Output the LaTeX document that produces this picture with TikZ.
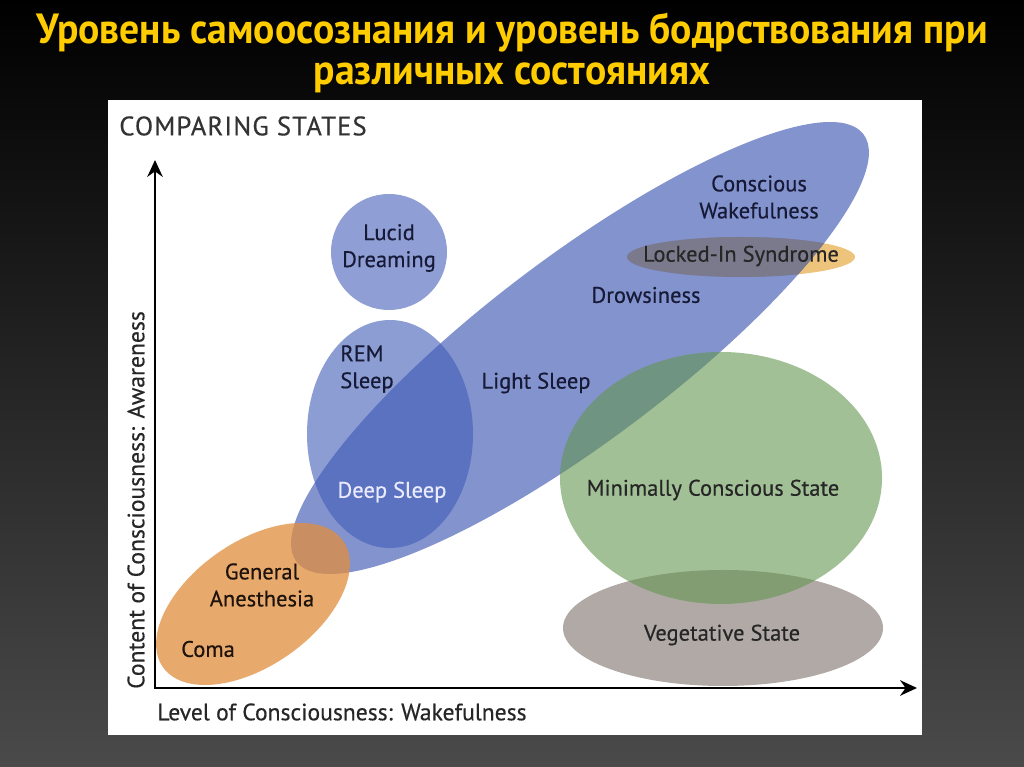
\documentclass[tikz,border=0pt]{standalone}
\usepackage{fontspec}
\setmainfont{PT Sans}
\newfontfamily\titlefont[FakeStretch=0.94]{PT Sans}
\newfontfamily\labelfont[FakeBold=0.4]{PT Sans}
\usetikzlibrary{arrows.meta}

\definecolor{bggray}{RGB}{74,74,74}
\definecolor{titleyellow}{RGB}{255,204,0}
\definecolor{wakeblue}{RGB}{100,120,193}
\definecolor{sleepblue}{RGB}{63,93,183}
\definecolor{lucidblue}{RGB}{143,158,212}
\definecolor{anesthorange}{RGB}{225,141,61}
\definecolor{lockorange}{RGB}{238,196,125}
\definecolor{lockgray}{RGB}{122,122,140}
\definecolor{mcsgreen}{RGB}{100,150,80}
\definecolor{veggray}{RGB}{176,169,166}
\definecolor{inkblue}{RGB}{22,26,55}

\begin{document}
\begin{tikzpicture}[x=0.025cm, y=0.025cm,
  lbl/.style={font=\labelfont\fontsize{16}{19.2}\selectfont, text=inkblue, align=center, inner sep=0pt},
  axislbl/.style={font=\labelfont\fontsize{16.8}{19.2}\selectfont, text=black!85, inner sep=0pt},
  axisline/.style={line width=1.5pt, {Stealth[length=12pt, width=11pt]}-{Stealth[length=12pt, width=11pt]}}]

% background and panel
\shade[top color=black, bottom color=bggray] (0, 0) rectangle (1024, 767);
\fill[white] (108, 32) rectangle (922, 667);

\node[font=\titlefont\bfseries\fontsize{30}{28.5}\selectfont, text=titleyellow, align=center, anchor=north, inner sep=0pt] (title) at (512, 754) {Уровень самоосознания и уровень бодрствования при\\различных состояниях};

\node[font=\labelfont\fontsize{19}{20}\selectfont\addfontfeature{LetterSpace=4}, text=black!80, anchor=west, inner sep=0pt] (heading) at (119, 641) {COMPARING STATES};

% states
\fill[lockorange] (741, 510) ellipse [x radius=114, y radius=20];
\fill[veggray] (723, 139) ellipse [x radius=160, y radius=58];
\fill[wakeblue, fill opacity=0.8, rotate around={37:(580, 419)}] (580, 419) ellipse [x radius=355, y radius=92];
\begin{scope}
  \clip[rotate around={37:(580, 419)}] (580, 419) ellipse [x radius=355, y radius=92];
  \fill[lockgray] (741, 510) ellipse [x radius=114, y radius=20];
\end{scope}
\fill[sleepblue, fill opacity=0.6] (390, 333) ellipse [x radius=83, y radius=114];
\fill[lucidblue] (389, 515) circle [radius=58];
\fill[anesthorange, fill opacity=0.75, rotate around={35:(253, 163)}] (253, 163) ellipse [x radius=110, y radius=62];
\fill[mcsgreen, fill opacity=0.6] (721, 289) ellipse [x radius=161, y radius=126];

\node[lbl] (lucid) at (389, 519) {Lucid\\Dreaming};
\node[lbl, align=left] (rem) at (367, 398) {REM\\Sleep};
\node[lbl] (light) at (536, 384) {Light Sleep};
\node[lbl, text=white!92!blue] (deep) at (392, 275) {Deep Sleep};
\node[lbl] (drowsy) at (646, 472) {Drowsiness};
\node[lbl] (awake) at (759, 570) {Conscious\\Wakefulness};
\node[lbl, text=black!85] (locked) at (741, 511) {Locked-In Syndrome};
\node[lbl, text=black!85] (mcs) at (713, 277) {Minimally Conscious State};
\node[lbl, text=black!85!brown] (anest) at (262, 182) {General\\Anesthesia};
\node[lbl, text=black!85!brown] (coma) at (208, 118) {Coma};
\node[lbl, text=black!85] (veg) at (722, 132) {Vegetative State};

% axes
\coordinate (origin) at (155, 79);
\coordinate (ytop) at (155, 607);
\coordinate (xend) at (917, 79);
\draw[axisline] (ytop) -- (origin) -- (xend);

\node[axislbl, rotate=90] (ylabel) at (136, 267) {Content of Consciousness: Awareness};
\node[axislbl] (xlabel) at (342, 55) {Level of Consciousness: Wakefulness};

\end{tikzpicture}
\end{document}
